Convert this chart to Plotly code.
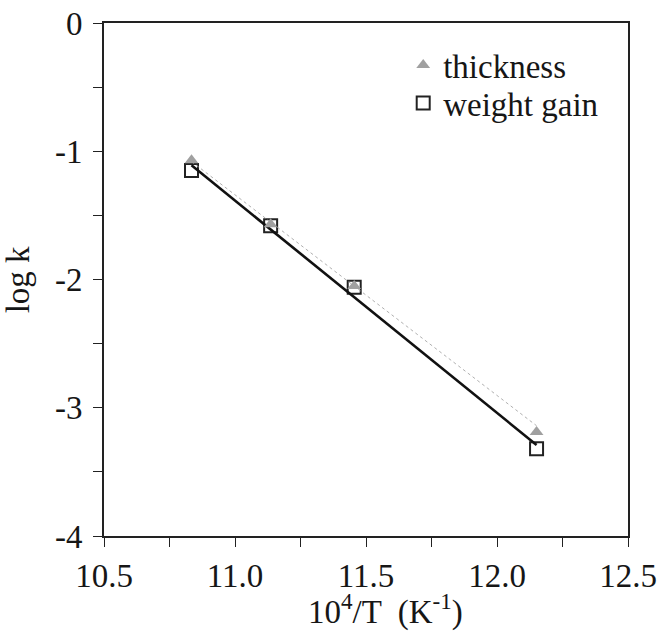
import plotly.graph_objects as go

# Data
inv_T = [10.834, 11.136, 11.455, 12.151]          # 10^4/T (K^-1)
logk_thickness = [-1.07, -1.57, -2.05, -3.19]
logk_weight = [-1.15, -1.58, -2.06, -3.32]

# Fitted lines (end points)
fit_x = [10.834, 12.151]
fit_thickness = [-1.08, -3.14]
fit_weight = [-1.11, -3.29]

# Tick labels
x_tickvals = [10.5, 11.0, 11.5, 12.0, 12.5]
x_ticktext = ["10.5", "11.0", "11.5", "12.0", "12.5"]
y_tickvals = [0, -1, -2, -3, -4]
y_ticktext = ["0", "-1", "-2", "-3", "-4"]

FONT = "Liberation Serif"
FS = 33
TXT = "#161616"

fig = go.Figure()

fig.add_trace(go.Scatter(
    x=inv_T, y=logk_weight, mode="markers", name="weight gain",
    legend="legend2",
    marker=dict(symbol="square-open", size=13, color="#222222",
                line=dict(width=2, color="#222222")),
))
fig.add_trace(go.Scatter(
    x=fit_x, y=fit_weight, mode="lines", showlegend=False,
    line=dict(color="#111111", width=2.6),
))
fig.add_trace(go.Scatter(
    x=fit_x, y=fit_thickness, mode="lines", showlegend=False,
    line=dict(color="#b0b0b0", width=1, dash="dot"),
))
fig.add_trace(go.Scatter(
    x=inv_T, y=logk_thickness, mode="markers", name="thickness",
    legend="legend",
    marker=dict(symbol="triangle-up", size=12, color="#a0a0a0",
                line=dict(width=0)),
))

axis_common = dict(
    showline=True, linecolor="#222222", linewidth=2, mirror=True,
    ticks="outside", ticklen=9, tickwidth=1, tickcolor="#222222",
    showgrid=False, zeroline=False, automargin=False,
    tickfont=dict(family=FONT, size=FS, color=TXT),
)

fig.update_xaxes(
    range=[10.5, 12.5], tickmode="array", tickvals=x_tickvals, ticktext=x_ticktext,
    minor=dict(dtick=0.25, tick0=10.5, ticks="outside", ticklen=9, tickcolor="#222222", showgrid=False),
    **axis_common,
)
fig.update_yaxes(
    range=[-4, 0], tickmode="array", tickvals=y_tickvals, ticktext=y_ticktext,
    ticklabelstandoff=4,
    minor=dict(dtick=0.5, tick0=0, ticks="outside", ticklen=9, tickcolor="#222222", showgrid=False),
    **axis_common,
)

fig.add_annotation(
    text="10<sup>4</sup>/T  (K<sup>-1</sup>)", xref="paper", yref="paper",
    x=0.538, y=-0.143, xanchor="center", yanchor="middle", showarrow=False,
    font=dict(family=FONT, size=FS, color=TXT),
)
fig.add_annotation(
    text="log k", xref="paper", yref="paper", textangle=-90,
    x=-0.1645, y=0.5, xanchor="center", yanchor="middle", showarrow=False,
    font=dict(family=FONT, size=FS, color=TXT),
)

legend_common = dict(
    x=0.571, xanchor="left", yanchor="middle",
    font=dict(family=FONT, size=FS, color=TXT),
    bgcolor="rgba(0,0,0,0)", itemwidth=30,
)

fig.update_layout(
    width=665, height=633,
    margin=dict(l=104, r=37, t=23, b=97),
    plot_bgcolor="white", paper_bgcolor="white",
    showlegend=True,
    legend=dict(y=0.918, **legend_common),
    legend2=dict(y=0.844, **legend_common),
)

fig.write_html("out.html")
